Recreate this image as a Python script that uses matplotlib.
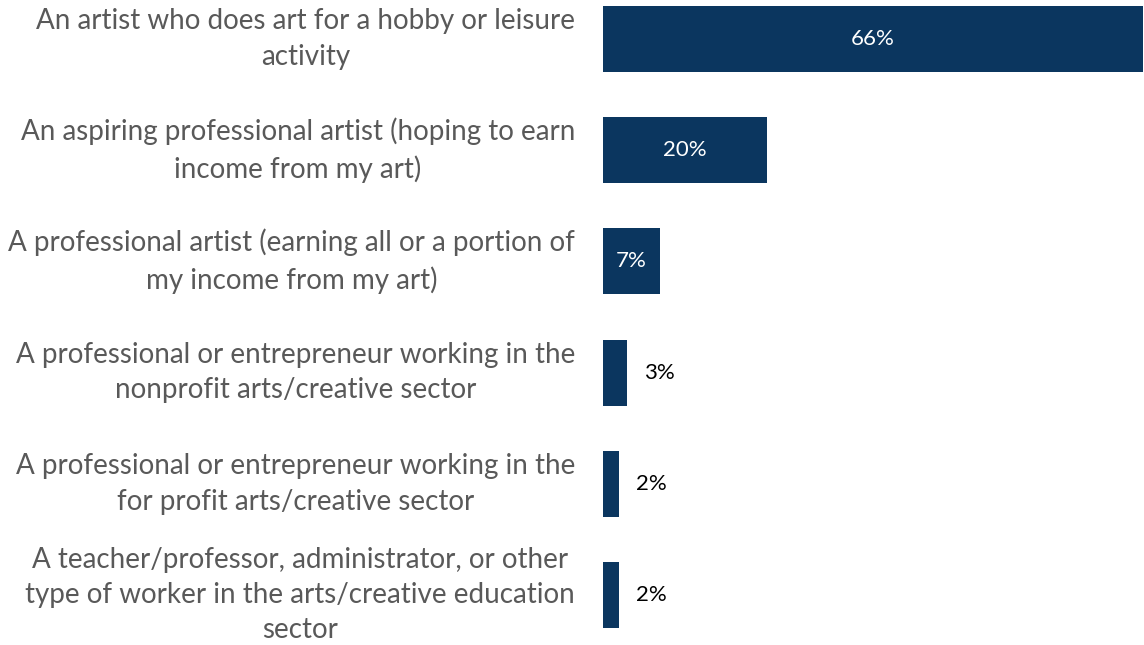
import matplotlib.pyplot as plt

# survey: how respondents describe themselves
labels = [
    "An artist who does art for a hobby or leisure\nactivity",
    "An aspiring professional artist (hoping to earn\nincome from my art)",
    "A professional artist (earning all or a portion of\nmy income from my art)",
    "A professional or entrepreneur working in the\nnonprofit arts/creative sector",
    "A professional or entrepreneur working in the\nfor profit arts/creative sector",
    "A teacher/professor, administrator, or other\ntype of worker in the arts/creative education\nsector",
]
values = [66, 20, 7, 3, 2, 2]

navy = "#0b365f"
grey = "#595959"

plt.rcParams['font.family'] = ['Lato', 'DejaVu Sans']

fig = plt.figure(figsize=(11.44, 6.45), dpi=100)
ax = fig.add_axes([0.527, 0.0, 0.472, 1.0])

pos = list(range(len(values)))
ax.barh(pos, values, height=0.594, color=navy)
ax.set_xlim(0, 66)
ax.set_ylim(5.45, -0.351)
ax.axis('off')

for y, lab, v in zip(pos, labels, values):
    ax.annotate(lab, xy=(0, y), xytext=(-20, 0), textcoords='offset points',
                ha='right', va='center', multialignment='center',
                fontsize=20, color=grey, linespacing=1.45)
    if v >= 5:
        ax.text(v / 2, y, f"{v}%", ha='center', va='center',
                fontsize=16, color='white')
    else:
        ax.annotate(f"{v}%", xy=(v, y), xytext=(12, 0), textcoords='offset points',
                    ha='left', va='center', fontsize=16, color='black')

fig.savefig("out.png", dpi=100)
